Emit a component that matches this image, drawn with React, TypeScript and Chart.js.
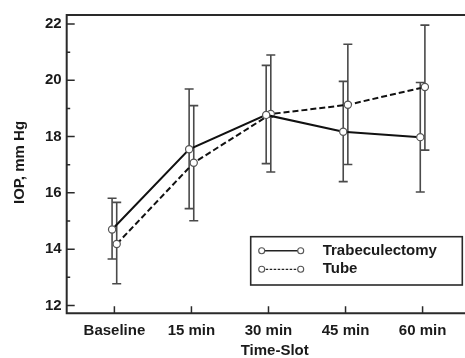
import React, { useEffect, useRef } from "react";
import { Chart, registerables } from "chart.js";

Chart.register(...registerables);

const categories = ["Baseline", "15 min", "30 min", "45 min", "60 min"];
const seriesNames = ["Trabeculectomy", "Tube"];
const trabMean = [14.7, 17.55, 18.77, 18.17, 17.98];
const trabUpper = [15.81, 19.69, 20.53, 19.96, 19.92];
const trabLower = [13.65, 15.44, 17.04, 16.4, 16.03];
const tubeMean = [14.18, 17.07, 18.8, 19.13, 19.76];
const tubeUpper = [15.66, 19.1, 20.9, 21.28, 21.96];
const tubeLower = [12.77, 15.01, 16.74, 17.01, 17.52];
const yTicks = [12, 14, 16, 18, 20, 22];
const yMinorTicks = [13, 15, 17, 19, 21];
const yTitle = "IOP, mm Hg";
const xTitle = "Time-Slot";

const FONT = "'Liberation Sans', Arial, Helvetica, sans-serif";
const OFFSET = 0.03;

const customPlugin = {
  id: "custom",
  beforeDatasetsDraw(chart: any) {
    const { ctx, scales } = chart;
    const x = scales.x;
    const y = scales.y;
    const drawBars = (mean: number[], up: number[], lo: number[], off: number) => {
      ctx.save();
      ctx.strokeStyle = "#4a4a4a";
      ctx.lineWidth = 1.6;
      mean.forEach((_, i) => {
        const px = x.getPixelForValue(i + off);
        const pu = y.getPixelForValue(up[i]);
        const pl = y.getPixelForValue(lo[i]);
        ctx.beginPath();
        ctx.moveTo(px, pu);
        ctx.lineTo(px, pl);
        ctx.moveTo(px - 4.5, pu);
        ctx.lineTo(px + 4.5, pu);
        ctx.moveTo(px - 4.5, pl);
        ctx.lineTo(px + 4.5, pl);
        ctx.stroke();
      });
      ctx.restore();
    };
    drawBars(trabMean, trabUpper, trabLower, -OFFSET);
    drawBars(tubeMean, tubeUpper, tubeLower, OFFSET);
  },
  afterDraw(chart: any) {
    const { ctx, chartArea, scales } = chart;
    const x = scales.x;
    const y = scales.y;
    const W = chart.width;
    ctx.save();
    // frame
    ctx.strokeStyle = "#2a2a2a";
    ctx.lineWidth = 2;
    ctx.beginPath();
    ctx.moveTo(W + 2, chartArea.top);
    ctx.lineTo(chartArea.left, chartArea.top);
    ctx.lineTo(chartArea.left, chartArea.bottom);
    ctx.lineTo(W + 2, chartArea.bottom);
    ctx.stroke();
    // y ticks inward
    ctx.lineWidth = 1.5;
    ctx.beginPath();
    yTicks.forEach((v) => {
      const py = y.getPixelForValue(v);
      ctx.moveTo(chartArea.left, py);
      ctx.lineTo(chartArea.left + 8, py);
    });
    yMinorTicks.forEach((v) => {
      const py = y.getPixelForValue(v);
      ctx.moveTo(chartArea.left, py);
      ctx.lineTo(chartArea.left + 3.5, py);
    });
    categories.forEach((_, i) => {
      const px = x.getPixelForValue(i);
      ctx.moveTo(px, chartArea.bottom);
      ctx.lineTo(px, chartArea.bottom - 7);
    });
    ctx.stroke();

    // axis titles
    ctx.fillStyle = "#1a1a1a";
    ctx.font = `bold 15px ${FONT}`;
    ctx.textAlign = "center";
    ctx.textBaseline = "middle";
    ctx.fillText(xTitle, 274.7, 351);
    ctx.save();
    ctx.translate(20, 162.5);
    ctx.rotate(-Math.PI / 2);
    ctx.fillText(yTitle, 0, 0);
    ctx.restore();

    // legend
    const bx = 250.7, by = 236.7, bw = 211.6, bh = 48.3;
    ctx.strokeStyle = "#2a2a2a";
    ctx.lineWidth = 1.6;
    ctx.strokeRect(bx, by, bw, bh);
    const rows = [250.7, 269.3];
    const x1 = 261.7, x2 = 300.7;
    rows.forEach((ry, k) => {
      ctx.save();
      ctx.strokeStyle = "#222";
      ctx.lineWidth = k === 0 ? 1.4 : 1.2;
      ctx.setLineDash(k === 0 ? [] : [2.5, 1.5]);
      ctx.beginPath();
      ctx.moveTo(x1, ry);
      ctx.lineTo(x2, ry);
      ctx.stroke();
      ctx.setLineDash([]);
      ctx.fillStyle = "#fff";
      ctx.strokeStyle = "#555";
      ctx.lineWidth = 1.1;
      [x1, x2].forEach((cx) => {
        ctx.beginPath();
        ctx.arc(cx, ry, 3, 0, Math.PI * 2);
        ctx.fill();
        ctx.stroke();
      });
      ctx.restore();
      ctx.fillStyle = "#1a1a1a";
      ctx.font = `bold 15px ${FONT}`;
      ctx.textAlign = "left";
      ctx.textBaseline = "middle";
      ctx.fillText(seriesNames[k], 322.7, ry);
    });
    ctx.restore();
  },
};

export default function App() {
  const ref = useRef<HTMLCanvasElement | null>(null);
  useEffect(() => {
    if (!ref.current) return;
    const chart = new Chart(ref.current, {
      type: "line",
      data: {
        datasets: [
          {
            label: seriesNames[0],
            data: trabMean.map((v, i) => ({ x: i - OFFSET, y: v })),
            borderColor: "#111",
            borderWidth: 2,
            pointRadius: 3.6,
            pointBackgroundColor: "#fff",
            pointBorderColor: "#555",
            pointBorderWidth: 1.2,
            tension: 0,
          },
          {
            label: seriesNames[1],
            data: tubeMean.map((v, i) => ({ x: i + OFFSET, y: v })),
            borderColor: "#111",
            borderWidth: 2,
            borderDash: [6, 3],
            pointRadius: 3.6,
            pointBackgroundColor: "#fff",
            pointBorderColor: "#555",
            pointBorderWidth: 1.2,
            tension: 0,
          },
        ],
      },
      options: {
        responsive: false,
        animation: false,
        devicePixelRatio: 1,
        layout: { padding: { top: 15, right: 0, left: 0, bottom: 0 } },
        plugins: { legend: { display: false }, tooltip: { enabled: false } },
        scales: {
          x: {
            type: "linear",
            min: -0.619,
            max: 4.483,
            grid: { display: false, drawTicks: false },
            border: { display: false },
            afterBuildTicks: (s: any) => {
              s.ticks = categories.map((_, i) => ({ value: i }));
            },
            afterFit: (s: any) => {
              s.height = 44.7;
            },
            ticks: {
              autoSkip: false,
              maxRotation: 0,
              padding: 9,
              color: "#1a1a1a",
              font: { family: FONT, size: 15, weight: "bold" },
              callback: (v: any) => categories[v] ?? "",
            },
          },
          y: {
            type: "linear",
            min: 11.72,
            max: 22.32,
            grid: { display: false, drawTicks: false },
            border: { display: false },
            afterBuildTicks: (s: any) => {
              s.ticks = yTicks.map((v) => ({ value: v }));
            },
            afterFit: (s: any) => {
              s.width = 66.7;
            },
            ticks: {
              padding: 5,
              color: "#1a1a1a",
              font: { family: FONT, size: 15, weight: "bold" },
            },
          },
        },
      },
      plugins: [customPlugin],
    } as any);
    return () => chart.destroy();
  }, []);
  return (
    <div style={{ position: "fixed", left: 0, top: 0, width: 465, height: 358, background: "#fff" }}>
      <canvas ref={ref} width={465} height={358} />
    </div>
  );
}
